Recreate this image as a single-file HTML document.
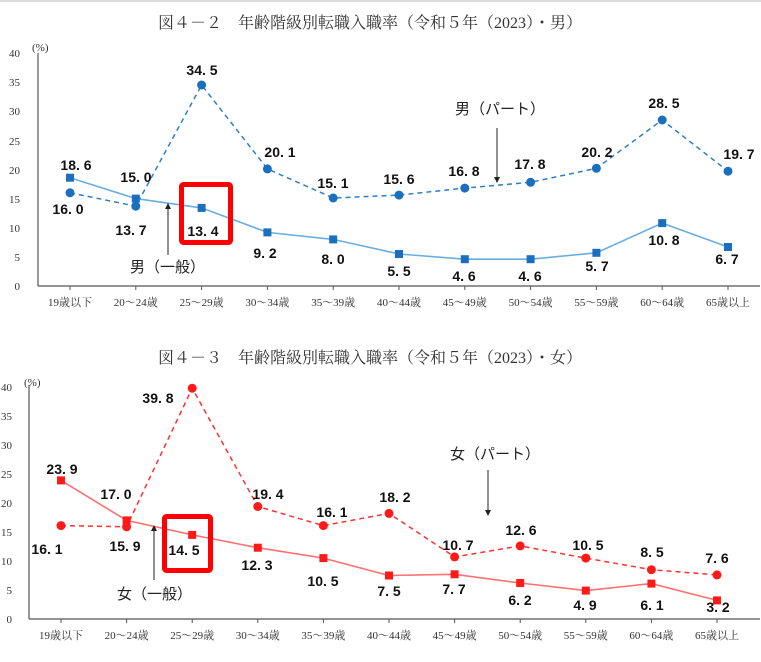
<!DOCTYPE html>
<html><head><meta charset="utf-8"><style>
body{margin:0;background:#fff;}
svg{display:block;}
.t{font-family:"Liberation Serif","Noto Serif CJK SC",serif;font-size:16px;fill:#333;}
.ax{font-family:"Liberation Serif","Noto Serif CJK SC",serif;font-size:11px;fill:#333;}
.v{font-family:"Liberation Sans","Noto Sans CJK JP",sans-serif;font-size:14px;font-weight:bold;fill:#111;text-anchor:middle;}
.lg{font-family:"Liberation Sans","Noto Sans CJK JP",sans-serif;font-size:15px;fill:#222;}
</style></head><body>
<svg width="761" height="662" viewBox="0 0 761 662">
<defs><marker id="ar" markerWidth="6" markerHeight="6" refX="3" refY="3" orient="auto"><path d="M0,0 L6,3 L0,6 z" fill="#222"/></marker></defs>
<rect x="0" y="0" width="761" height="2" fill="#ddd"/>
<!-- TOP -->
<text class="t" x="370" y="28" text-anchor="middle">図４－２　年齢階級別転職入職率（令和５年（2023）・男）</text>
<g stroke="#555" stroke-width="1.2"><line x1="38" y1="53" x2="38" y2="286"/><line x1="38" y1="286" x2="760" y2="286"/></g>
<g stroke="#555"><line x1="70" y1="286" x2="70" y2="290"/><line x1="135.8" y1="286" x2="135.8" y2="290"/><line x1="201.6" y1="286" x2="201.6" y2="290"/><line x1="267.4" y1="286" x2="267.4" y2="290"/><line x1="333.2" y1="286" x2="333.2" y2="290"/><line x1="399" y1="286" x2="399" y2="290"/><line x1="464.8" y1="286" x2="464.8" y2="290"/><line x1="530.6" y1="286" x2="530.6" y2="290"/><line x1="596.4" y1="286" x2="596.4" y2="290"/><line x1="662.2" y1="286" x2="662.2" y2="290"/><line x1="728" y1="286" x2="728" y2="290"/></g>
<g class="ax" text-anchor="end"><text x="20" y="290">0</text><text x="20" y="261">5</text><text x="20" y="232">10</text><text x="20" y="203">15</text><text x="20" y="174">20</text><text x="20" y="145">25</text><text x="20" y="115">30</text><text x="20" y="86">35</text><text x="20" y="57">40</text></g>
<text class="ax" x="32" y="51">(%)</text>
<g class="ax" text-anchor="middle"><text x="70" y="306">19歳以下</text><text x="135.8" y="306">20～24歳</text><text x="201.6" y="306">25～29歳</text><text x="267.4" y="306">30～34歳</text><text x="333.2" y="306">35～39歳</text><text x="399" y="306">40～44歳</text><text x="464.8" y="306">45～49歳</text><text x="530.6" y="306">50～54歳</text><text x="596.4" y="306">55～59歳</text><text x="662.2" y="306">60～64歳</text><text x="728" y="306">65歳以上</text></g>
<polyline fill="none" stroke="#2f7fc4" stroke-width="1.5" stroke-dasharray="5,4" points="70,192.8 135.8,206.2 201.6,85 267.4,168.9 333.2,198 399,195.1 464.8,188.1 530.6,182.3 596.4,168.3 662.2,120 728,171.2"/>
<polyline fill="none" stroke="#6aaee0" stroke-width="1.6" points="70,177.7 135.8,198.6 201.6,207.9 267.4,232.4 333.2,239.4 399,254 464.8,259.2 530.6,259.2 596.4,252.8 662.2,223.1 728,247"/>
<g fill="#1a6fbf"><circle cx="70" cy="192.8" r="4.5"/><circle cx="135.8" cy="206.2" r="4.5"/><circle cx="201.6" cy="85" r="4.5"/><circle cx="267.4" cy="168.9" r="4.5"/><circle cx="333.2" cy="198" r="4.5"/><circle cx="399" cy="195.1" r="4.5"/><circle cx="464.8" cy="188.1" r="4.5"/><circle cx="530.6" cy="182.3" r="4.5"/><circle cx="596.4" cy="168.3" r="4.5"/><circle cx="662.2" cy="120" r="4.5"/><circle cx="728" cy="171.2" r="4.5"/></g>
<g fill="#1a6fbf"><rect x="66" y="173.7" width="8" height="8"/><rect x="131.8" y="194.6" width="8" height="8"/><rect x="197.6" y="203.9" width="8" height="8"/><rect x="263.4" y="228.4" width="8" height="8"/><rect x="329.2" y="235.4" width="8" height="8"/><rect x="395" y="250" width="8" height="8"/><rect x="460.8" y="255.2" width="8" height="8"/><rect x="526.6" y="255.2" width="8" height="8"/><rect x="592.4" y="248.8" width="8" height="8"/><rect x="658.2" y="219.1" width="8" height="8"/><rect x="724" y="243" width="8" height="8"/></g>
<g class="v"><text x="76" y="170">18. 6</text><text x="136" y="182">15. 0</text><text x="202" y="75">34. 5</text><text x="280" y="157">20. 1</text><text x="333" y="188">15. 1</text><text x="399" y="184">15. 6</text><text x="464" y="176">16. 8</text><text x="530" y="169">17. 8</text><text x="597" y="157">20. 2</text><text x="664" y="108">28. 5</text><text x="739" y="159">19. 7</text>
<text x="68" y="214">16. 0</text><text x="131" y="235">13. 7</text><text x="203" y="236">13. 4</text><text x="265" y="258">9. 2</text><text x="333" y="264">8. 0</text><text x="399" y="276">5. 5</text><text x="464" y="281">4. 6</text><text x="530" y="281">4. 6</text><text x="597" y="271">5. 7</text><text x="664" y="245">10. 8</text><text x="727" y="264">6. 7</text></g>
<rect x="181.5" y="184.5" width="49" height="58" fill="none" stroke="#f00" stroke-width="5" rx="2"/>
<text class="lg" x="455" y="114">男（パート）</text>
<line x1="497" y1="128" x2="497" y2="180" stroke="#222" marker-end="url(#ar)"/>
<text class="lg" x="130" y="272">男（一般）</text>
<line x1="168" y1="255" x2="168" y2="206" stroke="#222" marker-end="url(#ar)"/>
<!-- BOTTOM -->
<text class="t" x="370" y="363" text-anchor="middle">図４－３　年齢階級別転職入職率（令和５年（2023）・女）</text>
<g stroke="#555" stroke-width="1.2"><line x1="29" y1="385" x2="29" y2="619"/><line x1="29" y1="619" x2="760" y2="619"/></g>
<g stroke="#555"><line x1="61" y1="619" x2="61" y2="623"/><line x1="126.6" y1="619" x2="126.6" y2="623"/><line x1="192.2" y1="619" x2="192.2" y2="623"/><line x1="257.8" y1="619" x2="257.8" y2="623"/><line x1="323.4" y1="619" x2="323.4" y2="623"/><line x1="389" y1="619" x2="389" y2="623"/><line x1="454.6" y1="619" x2="454.6" y2="623"/><line x1="520.2" y1="619" x2="520.2" y2="623"/><line x1="585.8" y1="619" x2="585.8" y2="623"/><line x1="651.4" y1="619" x2="651.4" y2="623"/><line x1="717" y1="619" x2="717" y2="623"/></g>
<g class="ax" text-anchor="end"><text x="12" y="623">0</text><text x="12" y="594">5</text><text x="12" y="565">10</text><text x="12" y="536">15</text><text x="12" y="507">20</text><text x="12" y="478">25</text><text x="12" y="449">30</text><text x="12" y="420">35</text><text x="12" y="391">40</text></g>
<text class="ax" x="24" y="386">(%)</text>
<g class="ax" text-anchor="middle"><text x="61" y="639">19歳以下</text><text x="126.6" y="639">20～24歳</text><text x="192.2" y="639">25～29歳</text><text x="257.8" y="639">30～34歳</text><text x="323.4" y="639">35～39歳</text><text x="389" y="639">40～44歳</text><text x="454.6" y="639">45～49歳</text><text x="520.2" y="639">50～54歳</text><text x="585.8" y="639">55～59歳</text><text x="651.4" y="639">60～64歳</text><text x="717" y="639">65歳以上</text></g>
<polyline fill="none" stroke="#ff3030" stroke-width="1.5" stroke-dasharray="5,4" points="61,525.6 126.6,526.8 192.2,388.2 257.8,506.5 323.4,525.6 389,513.4 454.6,556.9 520.2,545.9 585.8,558.1 651.4,569.7 717,574.9"/>
<polyline fill="none" stroke="#ff7070" stroke-width="1.6" points="61,480.4 126.6,520.4 192.2,534.9 257.8,547.7 323.4,558.1 389,575.5 454.6,574.3 520.2,583 585.8,590.6 651.4,583.6 717,600.4"/>
<g fill="#ff1a1a"><circle cx="61" cy="525.6" r="4.5"/><circle cx="126.6" cy="526.8" r="4.5"/><circle cx="192.2" cy="388.2" r="4.5"/><circle cx="257.8" cy="506.5" r="4.5"/><circle cx="323.4" cy="525.6" r="4.5"/><circle cx="389" cy="513.4" r="4.5"/><circle cx="454.6" cy="556.9" r="4.5"/><circle cx="520.2" cy="545.9" r="4.5"/><circle cx="585.8" cy="558.1" r="4.5"/><circle cx="651.4" cy="569.7" r="4.5"/><circle cx="717" cy="574.9" r="4.5"/></g>
<g fill="#ff1a1a"><rect x="57" y="476.4" width="8" height="8"/><rect x="122.6" y="516.4" width="8" height="8"/><rect x="188.2" y="530.9" width="8" height="8"/><rect x="253.8" y="543.7" width="8" height="8"/><rect x="319.4" y="554.1" width="8" height="8"/><rect x="385" y="571.5" width="8" height="8"/><rect x="450.6" y="570.3" width="8" height="8"/><rect x="516.2" y="579" width="8" height="8"/><rect x="581.8" y="586.6" width="8" height="8"/><rect x="647.4" y="579.6" width="8" height="8"/><rect x="713" y="596.4" width="8" height="8"/></g>
<g class="v"><text x="62" y="474">23. 9</text><text x="116" y="499">17. 0</text><text x="158" y="403">39. 8</text><text x="268" y="499">19. 4</text><text x="332" y="517">16. 1</text><text x="395" y="502">18. 2</text><text x="458" y="550">10. 7</text><text x="521" y="535">12. 6</text><text x="588" y="550">10. 5</text><text x="652" y="557">8. 5</text><text x="717" y="563">7. 6</text>
<text x="47" y="554">16. 1</text><text x="125" y="551">15. 9</text><text x="184" y="555">14. 5</text><text x="257" y="570">12. 3</text><text x="323" y="586">10. 5</text><text x="389" y="596">7. 5</text><text x="454" y="594">7. 7</text><text x="520" y="605">6. 2</text><text x="585" y="610">4. 9</text><text x="652" y="610">6. 1</text><text x="718" y="612">3. 2</text></g>
<rect x="164.5" y="516.5" width="46" height="54" fill="none" stroke="#f00" stroke-width="5" rx="2"/>
<text class="lg" x="450" y="459">女（パート）</text>
<line x1="488" y1="470" x2="488" y2="513" stroke="#222" marker-end="url(#ar)"/>
<text class="lg" x="117" y="599">女（一般）</text>
<line x1="154" y1="580" x2="154" y2="528" stroke="#222" marker-end="url(#ar)"/>
</svg>
</body></html>
